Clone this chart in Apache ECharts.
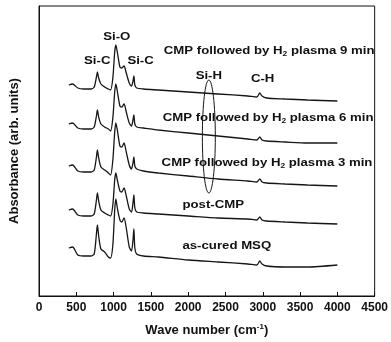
<!DOCTYPE html>
<html>
<head>
<meta charset="utf-8">
<script src="https://cdn.jsdelivr.net/npm/echarts@6/dist/echarts.min.js"></script>
<style>
html,body{margin:0;padding:0;background:#fff;}
#chartWrap{width:391px;height:342px;}
</style>
</head>
<body>
<div id="chartWrap"></div>
<script>
// wave numbers (cm-1), shared by all spectra
var waveNum = [400, 450, 520, 600, 700, 740, 770, 783, 800, 830, 880, 930, 960, 990, 1015, 1030, 1050, 1085, 1110, 1140,
	1170, 1210, 1240, 1260, 1272, 1285, 1310, 1400, 1600, 2000, 2400, 2800, 2920, 2960, 2990, 3050, 3300, 3600, 4000];

// absorbance (arb. units, stacked offsets included)
var asCured = [48, 49, 41, 40, 40, 42, 62, 71, 60, 47, 44, 39, 38, 51, 86, 97, 88, 76, 74, 78,
	68, 49, 45, 56, 67, 48, 42, 40, 39, 36, 34, 32, 31, 35, 32, 30, 29, 29, 31];
var postCmp = [86, 87, 81, 80, 80, 82, 96, 103, 95, 86, 83, 81, 80, 91, 116, 123, 116, 105, 104, 108,
	100, 87, 84, 93, 101, 88, 84, 83, 82, 80, 78, 77, 76, 79, 76, 75, 74, 73, 72];
var plasma3 = [130, 131, 125, 124, 124, 126, 139, 146, 138, 129, 126, 123, 121, 136, 164, 173, 166, 150, 149, 153,
	144, 131, 127, 133, 139, 130, 127, 125, 123, 120, 117, 115, 114, 117, 114, 113, 112, 111, 110];
var plasma6 = [172, 173, 168, 167, 167, 169, 180, 186, 179, 172, 169, 167, 165, 178, 204, 212, 205, 190, 189, 192,
	184, 173, 170, 176, 181, 172, 169, 168, 166, 163, 160, 157, 156, 159, 156, 155, 154, 153, 153];
var plasma9 = [211, 212, 208, 207, 207, 209, 219, 224, 218, 212, 209, 207, 206, 218, 244, 251, 244, 229, 228, 230,
	223, 213, 210, 215, 220, 211, 208, 207, 206, 204, 202, 200, 199, 203, 200, 198, 197, 196, 195];

// x axis ticks
var xTicks = [0, 500, 1000, 1500, 2000, 2500, 3000, 3500, 4000, 4500];

// annotations: text, wave number, absorbance, anchor
var noteText = ['Si-O', 'Si-C', 'Si-C', 'Si-H', 'C-H',
	'{t|CMP followed by H}{s|2}{t| plasma 9 min}',
	'{t|CMP followed by H}{s|2}{t| plasma 6 min}',
	'{t|CMP followed by H}{s|2}{t| plasma 3 min}',
	'{t|post-CMP}', '{t|as-cured MSQ}'];
var noteX = [1042, 781, 1362, 2277, 2998, 1673, 1658, 1644, 1923, 1923];
var noteY = [259, 235, 235, 220, 217, 245, 178, 133, 91, 50];
var noteAlign = ['center', 'center', 'center', 'center', 'center', 'left', 'left', 'left', 'left', 'left'];

// Si-H ellipse (centre and half axes in data units)
var ringCenter = [2277, 159.5];
var ringHalf = [87, 56.5];

function pairs(xs, ys){
	var out = [];
	for(var i = 0; i < xs.length; i++){
		out.push([xs[i], ys[i]]);
	}
	return out;
}

var dom = document.getElementById('chartWrap');
var myChart = echarts.init(dom, null, {renderer: 'canvas'});
var font = 'Liberation Sans, Arial, sans-serif';
var lineCol = '#161616';

var seriesData = [asCured, postCmp, plasma3, plasma6, plasma9];
var series = [];
for(var i = 0; i < seriesData.length; i++){
	series.push({
		type: 'line',
		data: pairs(waveNum, seriesData[i]),
		showSymbol: false,
		symbol: 'none',
		smooth: 0.25,
		lineStyle: {color: lineCol, width: 1.3},
		silent: true
	});
}

var option = {
	animation: false,
	backgroundColor: '#fff',
	grid: {
		left: 38, top: 6, right: 16, bottom: 46,
		show: true, borderColor: '#111', borderWidth: 1
	},
	xAxis: {
		type: 'value',
		min: xTicks[0],
		max: xTicks[xTicks.length - 1],
		interval: 500,
		name: '{t|Wave number (cm}{p|-1}{t|)}',
		nameLocation: 'middle',
		nameGap: 27,
		nameTextStyle: {
			rich: {
				t: {fontFamily: font, fontWeight: 'bold', fontSize: 13, color: '#111', lineHeight: 15},
				p: {fontFamily: font, fontWeight: 'bold', fontSize: 8, color: '#111', verticalAlign: 'top', lineHeight: 9}
			}
		},
		axisLine: {lineStyle: {color: '#111', width: 1}},
		axisTick: {inside: true, length: 4, lineStyle: {color: '#111'}},
		axisLabel: {
			fontFamily: font, fontWeight: 'bold', fontSize: 12, color: '#111', margin: 6,
			formatter: function(v){ return String(v); }
		},
		splitLine: {show: false}
	},
	yAxis: {
		type: 'value',
		min: 0,
		max: 290,
		name: 'Absorbance (arb. units)',
		nameLocation: 'middle',
		nameGap: 18,
		nameTextStyle: {fontFamily: font, fontWeight: 'bold', fontSize: 13, color: '#111'},
		axisLine: {show: true, lineStyle: {color: '#111'}},
		axisTick: {show: false},
		axisLabel: {show: false},
		splitLine: {show: false}
	},
	series: series
};
myChart.setOption(option, true);

// annotations placed through the axes
var graphics = [];
var rich = {
	t: {fontFamily: font, fontWeight: 'bold', fontSize: 11, fill: '#111', lineHeight: 13},
	s: {fontFamily: font, fontWeight: 'bold', fontSize: 7, fill: '#111', verticalAlign: 'bottom', lineHeight: 7}
};
for(var i = 0; i < noteText.length; i++){
	var p = myChart.convertToPixel({xAxisIndex: 0, yAxisIndex: 0}, [noteX[i], noteY[i]]);
	var txt = noteText[i].indexOf('{') === 0 ? noteText[i] : '{t|' + noteText[i] + '}';
	graphics.push({
		type: 'text',
		x: p[0], y: p[1],
		scaleX: 1.2,
		silent: true,
		style: {text: txt, rich: rich, align: noteAlign[i], verticalAlign: 'middle'}
	});
}
var c = myChart.convertToPixel({xAxisIndex: 0, yAxisIndex: 0}, ringCenter);
var e = myChart.convertToPixel({xAxisIndex: 0, yAxisIndex: 0}, [ringCenter[0] + ringHalf[0], ringCenter[1] + ringHalf[1]]);
graphics.push({
	type: 'ellipse',
	silent: true,
	shape: {cx: c[0], cy: c[1], rx: Math.abs(e[0] - c[0]), ry: Math.abs(c[1] - e[1])},
	style: {fill: 'none', stroke: lineCol, lineWidth: 1}
});
myChart.setOption({graphic: graphics});
</script>
</body>
</html>
